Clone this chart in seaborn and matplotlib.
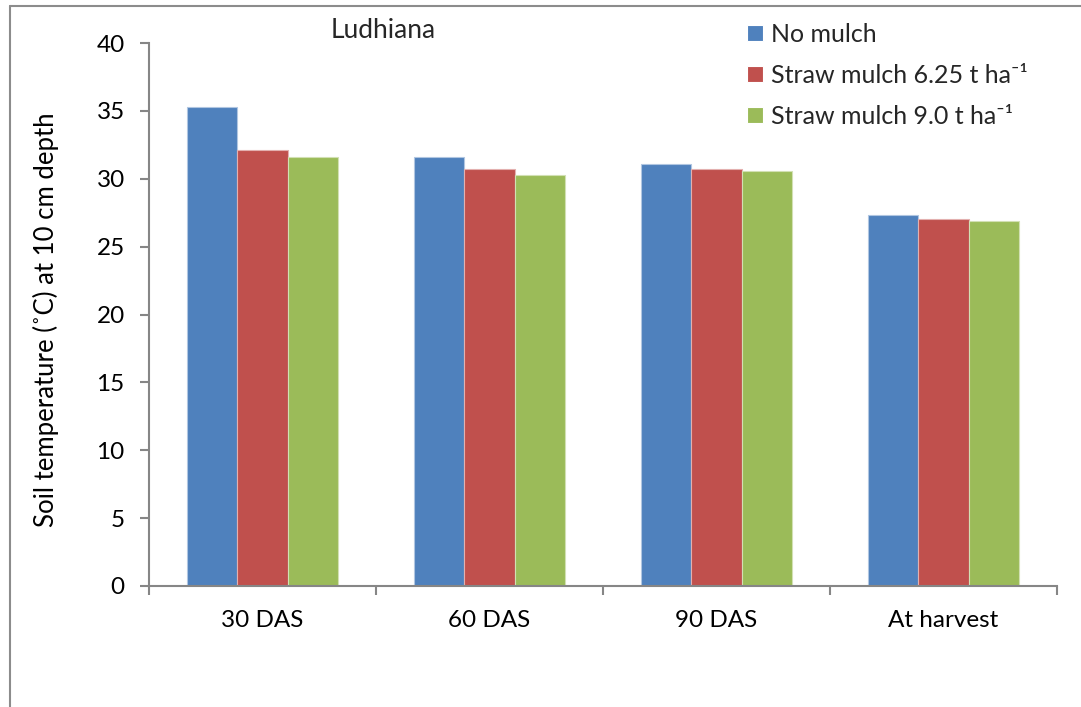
import matplotlib
matplotlib.use("Agg")
import matplotlib.pyplot as plt
import seaborn as sns
import pandas as pd
from matplotlib.lines import Line2D
from matplotlib.colors import to_rgb

# Soil temperature at 10 cm depth, Ludhiana
stages = ["30 DAS", "60 DAS", "90 DAS", "At harvest"]
treatments = ["No mulch", "Straw mulch 6.25 t ha\u207b\u00b9", "Straw mulch 9.0 t ha\u207b\u00b9"]
no_mulch = [35.3, 31.6, 31.1, 27.3]
straw_625 = [32.1, 30.7, 30.7, 27.0]
straw_900 = [31.6, 30.3, 30.6, 26.9]
colors = ["#4F81BD", "#C0504D", "#9BBB59"]
yticks = [0, 5, 10, 15, 20, 25, 30, 35, 40]

df = pd.DataFrame({
    "stage": stages * 3,
    "treatment": [treatments[0]] * 4 + [treatments[1]] * 4 + [treatments[2]] * 4,
    "temp": no_mulch + straw_625 + straw_900,
})

sns.set_theme(style="white")
plt.rcParams["font.family"] = ["Lato", "DejaVu Sans"]

W, H = 1081, 707
fig = plt.figure(figsize=(W / 100, H / 100), dpi=100)
ax = fig.add_axes([149 / W, 1 - 586 / H, 908 / W, 543 / H])

sns.barplot(data=df, x="stage", y="temp", hue="treatment", order=stages,
            hue_order=treatments, palette=colors, width=0.667, saturation=1,
            errorbar=None, ax=ax, linewidth=0.8)

# faint light outline on each bar
for cont, c in zip(ax.containers, colors):
    r, g, b = to_rgb(c)
    light = (r + (1 - r) * 0.55, g + (1 - g) * 0.55, b + (1 - b) * 0.55)
    for p in cont:
        p.set_edgecolor(light)

axis_grey = "#868686"
ax.set_ylim(0, 40)
ax.set_xlim(-0.5, 3.5)
ax.set_yticks(yticks)
ax.set_yticklabels([str(v) for v in yticks], fontsize=17.5, color="black")
ax.set_xticks(range(len(stages)))
ax.set_xticklabels(stages, fontsize=17.5, color="black")
ax.set_xticks([i - 0.5 for i in range(len(stages) + 1)], minor=True)
ax.tick_params(axis="x", which="major", length=0, pad=17)
ax.tick_params(axis="x", which="minor", length=6.5, width=1.5, color=axis_grey, direction="out", bottom=True)
ax.tick_params(axis="y", which="major", length=6.5, width=1.5, color=axis_grey, direction="out", left=True, pad=11)

for side in ["top", "right"]:
    ax.spines[side].set_visible(False)
for side in ["left", "bottom"]:
    ax.spines[side].set_color(axis_grey)
    ax.spines[side].set_linewidth(1.5)

ax.set_xlabel("")
ax.set_ylabel("Soil temperature (\u02daC) at 10 cm depth", fontsize=18.5, color="black")
ax.yaxis.set_label_coords(-0.099, 0.49)

leg = ax.legend(loc="upper left", bbox_to_anchor=(0.659, 1.037), frameon=False,
                fontsize=18, handlelength=0.64, handleheight=0.64,
                handletextpad=0.3, labelspacing=0.72, borderaxespad=0, borderpad=0)

fig.text(383.5 / W, 1 - 38 / H, "Ludhiana", fontsize=19, ha="center", va="baseline")

# chart area frame
frame_kw = dict(color="#8C8C8C", linewidth=1.5, transform=fig.transFigure)
fig.add_artist(Line2D([10 / W, 10 / W], [0, 1 - 6 / H], **frame_kw))
fig.add_artist(Line2D([10 / W, 1], [1 - 6 / H, 1 - 6 / H], **frame_kw))

fig.savefig("out.png", dpi=100)
